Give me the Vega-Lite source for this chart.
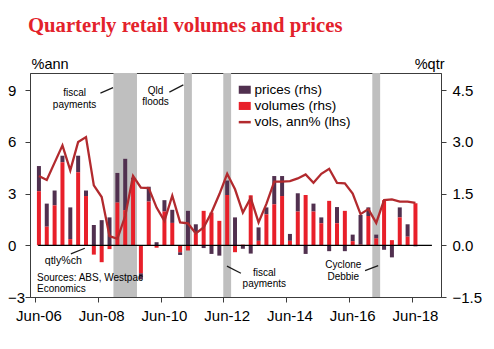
{
  "$schema": "https://vega.github.io/schema/vega-lite/v6.json",
  "width": 411,
  "height": 224,
  "autosize": {"type": "none"},
  "padding": {"left": 30, "top": 73, "right": 53, "bottom": 52},
  "background": "white",
  "title": {
    "text": "Quarterly retail volumes and prices",
    "anchor": "start",
    "frame": "group",
    "font": "Liberation Serif",
    "fontSize": 20.7,
    "fontWeight": "bold",
    "color": "#E3222B",
    "baseline": "alphabetic",
    "offset": 3.5,
    "dx": -2
  },
  "datasets": {
    "q": [
      {"t": 0, "q": "Jun-06", "volumes": 1.57, "prices": 0.73, "ann": 4.02},
      {"t": 1, "q": "Sep-06", "volumes": 0.54, "prices": 0.67, "ann": 3.79},
      {"t": 2, "q": "Dec-06", "volumes": 1.16, "prices": 0.43, "ann": 4.8},
      {"t": 3, "q": "Mar-07", "volumes": 2.41, "prices": 0.19, "ann": 5.8},
      {"t": 4, "q": "Jun-07", "volumes": 0.18, "prices": 0.92, "ann": 4.35},
      {"t": 5, "q": "Sep-07", "volumes": 2.12, "prices": 0.48, "ann": 6.0},
      {"t": 6, "q": "Dec-07", "volumes": 1.43, "prices": 0.16, "ann": 6.28},
      {"t": 7, "q": "Mar-08", "volumes": -0.27, "prices": 0.59, "ann": 3.48},
      {"t": 8, "q": "Jun-08", "volumes": -0.49, "prices": 0.73, "ann": 2.8},
      {"t": 9, "q": "Sep-08", "volumes": -0.11, "prices": 0.81, "ann": 0.53},
      {"t": 10, "q": "Dec-08", "volumes": 1.24, "prices": 0.86, "ann": 0.38},
      {"t": 11, "q": "Mar-09", "volumes": 1.02, "prices": 1.49, "ann": 1.7},
      {"t": 12, "q": "Jun-09", "volumes": 1.9, "prices": 0.06, "ann": 4.02},
      {"t": 13, "q": "Sep-09", "volumes": -0.81, "prices": -0.18, "ann": 3.35},
      {"t": 14, "q": "Dec-09", "volumes": 1.27, "prices": 0.43, "ann": 3.32},
      {"t": 15, "q": "Mar-10", "volumes": -0.07, "prices": 0.09, "ann": 2.19},
      {"t": 16, "q": "Jun-10", "volumes": 0.98, "prices": 0.33, "ann": 1.42},
      {"t": 17, "q": "Sep-10", "volumes": 0.65, "prices": 0.38, "ann": 2.88},
      {"t": 18, "q": "Dec-10", "volumes": -0.2, "prices": -0.08, "ann": 1.33},
      {"t": 19, "q": "Mar-11", "volumes": -0.15, "prices": 1.0, "ann": 1.27},
      {"t": 20, "q": "Jun-11", "volumes": 0.35, "prices": 0.26, "ann": 0.69},
      {"t": 21, "q": "Sep-11", "volumes": 1.0, "prices": -0.08, "ann": 1.04},
      {"t": 22, "q": "Dec-11", "volumes": 0.95, "prices": -0.25, "ann": 1.9},
      {"t": 23, "q": "Mar-12", "volumes": 0.71, "prices": -0.3, "ann": 2.96},
      {"t": 24, "q": "Jun-12", "volumes": 1.46, "prices": 0.42, "ann": 4.15},
      {"t": 25, "q": "Sep-12", "volumes": -0.2, "prices": 0.81, "ann": 3.25},
      {"t": 26, "q": "Dec-12", "volumes": 0.02, "prices": -0.1, "ann": 1.9},
      {"t": 27, "q": "Mar-13", "volumes": 1.45, "prices": -0.24, "ann": 2.75},
      {"t": 28, "q": "Jun-13", "volumes": 0.13, "prices": 0.39, "ann": 1.33},
      {"t": 29, "q": "Sep-13", "volumes": 0.9, "prices": 0.2, "ann": 2.4},
      {"t": 30, "q": "Dec-13", "volumes": 1.19, "prices": 0.82, "ann": 3.7},
      {"t": 31, "q": "Mar-14", "volumes": 1.43, "prices": 0.58, "ann": 3.7},
      {"t": 32, "q": "Jun-14", "volumes": 0.13, "prices": 0.2, "ann": 3.73},
      {"t": 33, "q": "Sep-14", "volumes": 0.98, "prices": 0.53, "ann": 3.88},
      {"t": 34, "q": "Dec-14", "volumes": 1.46, "prices": -0.25, "ann": 4.11},
      {"t": 35, "q": "Mar-15", "volumes": 0.98, "prices": 0.23, "ann": 3.63},
      {"t": 36, "q": "Jun-15", "volumes": 0.64, "prices": 0.17, "ann": 4.15},
      {"t": 37, "q": "Sep-15", "volumes": 1.29, "prices": -0.17, "ann": 4.44},
      {"t": 38, "q": "Dec-15", "volumes": 0.64, "prices": 0.47, "ann": 3.62},
      {"t": 39, "q": "Mar-16", "volumes": 1.0, "prices": -0.17, "ann": 3.6},
      {"t": 40, "q": "Jun-16", "volumes": 0.12, "prices": 0.19, "ann": 3.0},
      {"t": 41, "q": "Sep-16", "volumes": 0.02, "prices": 0.86, "ann": 1.81},
      {"t": 42, "q": "Dec-16", "volumes": 0.85, "prices": 0.25, "ann": 2.1},
      {"t": 43, "q": "Mar-17", "volumes": 0.2, "prices": 0.11, "ann": 1.3},
      {"t": 44, "q": "Jun-17", "volumes": 1.31, "prices": -0.13, "ann": 2.62},
      {"t": 45, "q": "Sep-17", "volumes": 0.15, "prices": -0.35, "ann": 2.67},
      {"t": 46, "q": "Dec-17", "volumes": 0.81, "prices": 0.29, "ann": 2.53},
      {"t": 47, "q": "Mar-18", "volumes": 0.25, "prices": 0.36, "ann": 2.54},
      {"t": 48, "q": "Jun-18", "volumes": 1.22, "prices": -0.03, "ann": 2.46}
    ],
    "shade": [
      {"start": 9.5, "end": 12.5, "event": "fiscal payments"},
      {"start": 18.5, "end": 19.5, "event": "Qld floods"},
      {"start": 23.5, "end": 24.5, "event": "fiscal payments"},
      {"start": 42.5, "end": 43.5, "event": "Cyclone Debbie"}
    ],
    "notes": [
      {"t": 4.54, "y": 8.66, "label": ["fiscal", "payments"]},
      {"t": 14.86, "y": 8.79, "label": ["Qld", "floods"]},
      {"t": 28.73, "y": -1.77, "label": ["fiscal", "payments"]},
      {"t": 38.8, "y": -1.34, "label": ["Cyclone", "Debbie"]}
    ],
    "qtly": [
      {"t": 3.11, "y": -1.08, "label": "qtly%ch"}
    ],
    "sources": [
      {"t": -0.25, "y": -2.09, "label": ["Sources: ABS, Westpac", "Economics"]}
    ],
    "leaders": [
      {"x1": 7.84, "y1": 8.83, "x2": 9.45, "y2": 9.15},
      {"x1": 16.63, "y1": 8.89, "x2": 18.41, "y2": 9.31},
      {"x1": 4.07, "y1": -0.5, "x2": 5.85, "y2": -0.17},
      {"x1": 23.97, "y1": -1.21, "x2": 25.75, "y2": -1.62},
      {"x1": 41.58, "y1": -1.47, "x2": 43.25, "y2": -1.18}
    ]
  },
  "config": {
    "view": {"stroke": "#3c3c3c", "strokeWidth": 1},
    "font": "Liberation Sans",
    "axis": {
      "grid": false,
      "domainColor": "#3c3c3c",
      "tickColor": "#3c3c3c",
      "labelFont": "Liberation Sans",
      "labelFontSize": 15,
      "labelColor": "#000000",
      "tickSize": 5,
      "titleFont": "Liberation Sans",
      "titleFontSize": 14.5,
      "titleFontWeight": "normal",
      "titleColor": "#000000"
    }
  },
  "layer": [
    {
      "data": {"name": "shade"},
      "mark": {"type": "rect", "color": "#BFBFBF"},
      "encoding": {
        "x": {
          "field": "start",
          "type": "quantitative",
          "title": null,
          "scale": {"domain": [-0.5, 50.62], "nice": false, "zero": false},
          "axis": {
            "values": [-0.5, 7.5, 15.5, 23.5, 31.5, 39.5, 47.5],
            "labelExpr": "['Jun-06','Jun-08','Jun-10','Jun-12','Jun-14','Jun-16','Jun-18'][round((datum.value + 0.5) / 8)]",
            "labelOffset": 3.5,
            "labelPadding": 6,
            "labelFlush": false,
            "labelOverlap": false,
            "tickSize": 5
          }
        },
        "x2": {"field": "end"},
        "y": {"datum": -3, "type": "quantitative", "scale": {"domain": [-3, 10], "nice": false, "zero": false}, "axis": null},
        "y2": {"datum": 10}
      }
    },
    {
      "data": {"name": "q"},
      "transform": [{"fold": ["prices", "volumes"], "as": ["series", "value"]}],
      "mark": {"type": "bar", "width": 4},
      "encoding": {
        "x": {"field": "t", "type": "quantitative", "title": null, "scale": {"domain": [-0.5, 50.62], "nice": false, "zero": false}},
        "y": {
          "field": "value",
          "type": "quantitative",
          "stack": "zero",
          "scale": {"domain": [-1.5, 5], "nice": false, "zero": false},
          "axis": {
            "orient": "right",
            "values": [-1.5, 0, 1.5, 3, 4.5],
            "format": ".1f",
            "title": "%qtr",
            "titleAngle": 0,
            "titleAlign": "right",
            "titleBaseline": "alphabetic",
            "titleX": 3,
            "titleY": -5,
            "labelPadding": 6,
            "labelAlign": "left"
          }
        },
        "color": {
          "field": "series",
          "type": "nominal",
          "scale": {"domain": ["prices", "volumes", "vols"], "range": ["#51304F", "#E8202A", "#B22A2E"]},
          "legend": {
            "orient": "none",
            "legendX": 208,
            "legendY": 10,
            "title": null,
            "padding": 0,
            "labelFont": "Liberation Sans",
            "labelFontSize": 13.5,
            "labelColor": "#000000",
            "labelOffset": 3,
            "rowPadding": 1.2,
            "symbolSize": 144,
            "labelExpr": "datum.value == 'prices' ? 'prices (rhs)' : datum.value == 'volumes' ? 'volumes (rhs)' : 'vols, ann% (lhs)'",
            "encode": {
              "symbols": {
                "update": {
                  "shape": {"signal": "datum.value == 'vols' ? 'M-1,0L1,0' : 'M-1,-0.67L1,-0.67L1,0.67L-1,0.67Z'"},
                  "fill": {"scale": "color", "field": "value"},
                  "stroke": {"scale": "color", "field": "value"},
                  "strokeWidth": {"signal": "datum.value == 'vols' ? 2.5 : 0"},
                  "opacity": {"value": 1},
                  "fillOpacity": {"value": 1}
                }
              }
            }
          }
        },
        "order": {"field": "series", "sort": "descending"}
      }
    },
    {
      "layer": [
        {
          "data": {"values": [{}]},
          "mark": {"type": "rule", "color": "#000000", "strokeWidth": 1.3},
          "encoding": {
            "x": {"datum": -0.1, "type": "quantitative", "scale": {"domain": [-0.5, 50.62], "nice": false, "zero": false}},
            "x2": {"datum": 50.1},
            "y": {"datum": 0, "type": "quantitative", "scale": {"domain": [-3, 10], "nice": false, "zero": false}}
          }
        },
        {
          "data": {"name": "q"},
          "mark": {"type": "line", "strokeWidth": 2.3},
          "encoding": {
            "x": {"field": "t", "type": "quantitative", "title": null, "scale": {"domain": [-0.5, 50.62], "nice": false, "zero": false}},
            "y": {
              "field": "ann",
              "type": "quantitative",
              "scale": {"domain": [-3, 10], "nice": false, "zero": false},
              "axis": {
                "orient": "left",
                "values": [-3, 0, 3, 6, 9],
                "title": "%ann",
                "titleAngle": 0,
                "titleAlign": "left",
                "titleBaseline": "alphabetic",
                "titleX": 1,
                "titleY": -5,
                "labelAlign": "left",
                "labelPadding": 17.5
              }
            },
            "color": {"datum": "vols"}
          }
        },
        {
          "data": {"name": "leaders"},
          "mark": {"type": "rule", "color": "#1a1a1a", "strokeWidth": 1.2},
          "encoding": {
            "x": {"field": "x1", "type": "quantitative", "title": null, "scale": {"domain": [-0.5, 50.62], "nice": false, "zero": false}},
            "x2": {"field": "x2"},
            "y": {"field": "y1", "type": "quantitative", "scale": {"domain": [-3, 10], "nice": false, "zero": false}},
            "y2": {"field": "y2"}
          }
        },
        {
          "data": {"name": "notes"},
          "mark": {"type": "text", "font": "Liberation Sans", "fontSize": 10, "align": "center", "baseline": "alphabetic", "lineHeight": 11.5, "color": "#000000"},
          "encoding": {
            "x": {"field": "t", "type": "quantitative", "title": null, "scale": {"domain": [-0.5, 50.62], "nice": false, "zero": false}},
            "y": {"field": "y", "type": "quantitative", "scale": {"domain": [-3, 10], "nice": false, "zero": false}},
            "text": {"field": "label"}
          }
        },
        {
          "data": {"name": "qtly"},
          "mark": {"type": "text", "font": "Liberation Sans", "fontSize": 10.6, "align": "center", "baseline": "alphabetic", "color": "#000000"},
          "encoding": {
            "x": {"field": "t", "type": "quantitative", "title": null, "scale": {"domain": [-0.5, 50.62], "nice": false, "zero": false}},
            "y": {"field": "y", "type": "quantitative", "scale": {"domain": [-3, 10], "nice": false, "zero": false}},
            "text": {"field": "label"}
          }
        },
        {
          "data": {"name": "sources"},
          "mark": {"type": "text", "font": "Liberation Sans", "fontSize": 10, "align": "left", "baseline": "alphabetic", "lineHeight": 10.5, "color": "#000000"},
          "encoding": {
            "x": {"field": "t", "type": "quantitative", "title": null, "scale": {"domain": [-0.5, 50.62], "nice": false, "zero": false}},
            "y": {"field": "y", "type": "quantitative", "scale": {"domain": [-3, 10], "nice": false, "zero": false}},
            "text": {"field": "label"}
          }
        }
      ]
    }
  ],
  "resolve": {"scale": {"y": "independent"}, "axis": {"y": "independent"}}
}
